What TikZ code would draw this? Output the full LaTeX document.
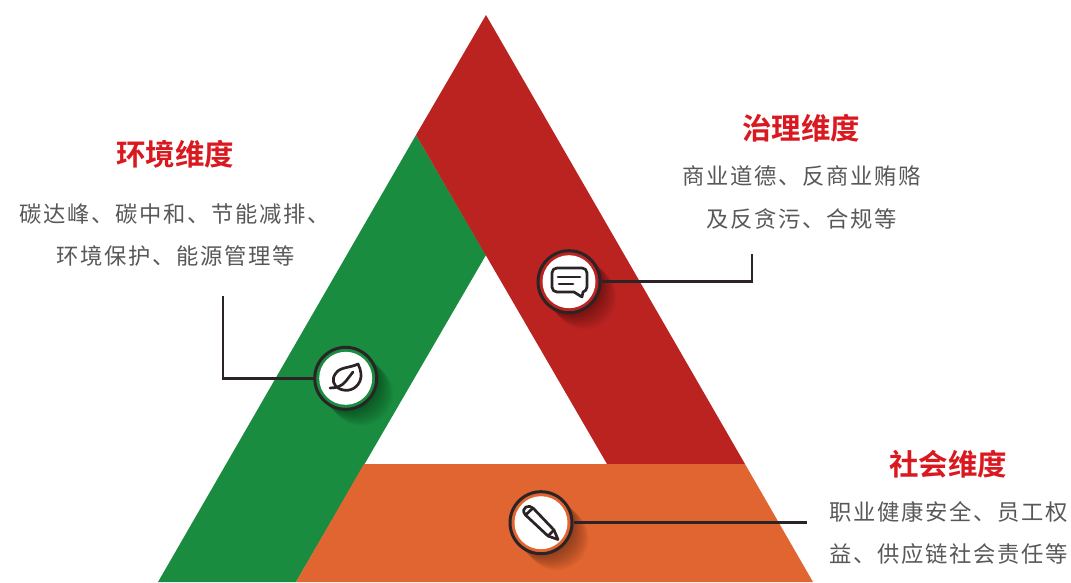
\documentclass[tikz,border=0pt]{standalone}
\usepackage{fontspec}
\setmainfont{Noto Sans CJK SC}
\newfontfamily\bodycjk[LetterSpace=7.5]{Noto Sans CJK SC}
\newfontfamily\headcjk{Noto Sans CJK SC Bold}
\definecolor{gr}{HTML}{1A8C40}
\definecolor{rd}{HTML}{BB2321}
\definecolor{og}{HTML}{E06530}
\definecolor{ttl}{HTML}{D9191F}
\definecolor{bodyc}{HTML}{595757}
\definecolor{ink}{HTML}{2B2326}
\tikzset{
 x=1pt,y=-1pt,
 band/.style={draw=none},
 badge/.style={circle,draw=ink,line width=3pt,minimum size=62pt,inner sep=0pt},
 lead/.style={draw=ink,line width=2.6pt},
 icon/.style={draw=ink,line width=2.7pt,line cap=round,line join=round},
 headtxt/.style={text=ttl,font=\headcjk\fontsize{29.5}{32}\selectfont,inner sep=0pt,anchor=center},
 bodytxt/.style={text=bodyc,font=\bodycjk\fontsize{22.3}{24}\selectfont,inner sep=0pt,anchor=center},
}
\newcommand{\longshade}[2]{%
 \foreach \k in {1,...,16}{\fill[black,opacity=0.022] (#1+\k,#2+\k) circle[radius=31.5];}}
\newcommand{\whitedisc}[2]{\fill[white] (#1,#2) circle[radius=26.5];}
\begin{document}
\begin{tikzpicture}
\useasboundingbox (0,0) rectangle (1071,582);
\fill[white] (0,0) rectangle (1071,582);
% bands
\fill[band,gr] (416,135) -- (486,255) -- (296,582) -- (158,582) -- cycle;
\fill[band,rd] (486,15) -- (745,464) -- (607,464) -- (416,135) -- cycle;
\fill[band,og] (364,464) -- (745,464) -- (813,582) -- (296,582) -- cycle;
% shadows
\longshade{345.7}{378.3}
\longshade{569}{281.7}
\longshade{541}{522.7}
% badges
\node[badge,fill=gr] (leaf) at (345.7,378.3) {};
\node[badge,fill=rd] (chat) at (569,281.7) {};
\node[badge,fill=og] (pen) at (541,522.7) {};
\whitedisc{345.7}{378.3}
\whitedisc{569}{281.7}
\whitedisc{541}{522.7}
% connectors
\coordinate (leafend) at (223,296);
\coordinate (chatend) at (752,254);
\coordinate (penend) at (807,522.7);
\draw[lead] (leafend) |- (leaf.west);
\draw[lead] (chat.east) -| (chatend);
\draw[lead] (pen.east) -- (penend);
% leaf icon
\draw[icon] (330,388) .. controls (337,388) and (342,386) .. (346,381) -- (353,372);
\draw[icon] (358,364) .. controls (350,368) and (340,367) .. (336,373) .. controls (331,379) and (333,386) .. (340,389) .. controls (347,392) and (356,390) .. (360,381) .. controls (362,376) and (361,370) .. (358,364) -- cycle;
% chat icon
\draw[icon] (557,268) -- (582,268) .. controls (585,268) and (587,270) .. (587,273) -- (587,287) .. controls (587,290) and (585,291) .. (583,292) -- (582,297) -- (574,292) -- (557,292) .. controls (554,292) and (552,290) .. (552,287) -- (552,273) .. controls (552,270) and (554,268) .. (557,268) -- cycle;
\draw[icon] (558,277) -- (580,277);
\draw[icon] (559,284) -- (573,284);
% pencil icon
\draw[icon] (525.5,515) -- (533,508) -- (554,530) -- (558,539.5) -- (548,536) -- cycle;
\draw[icon] (525.5,515) .. controls (522,511) and (524,508) .. (526,507) .. controls (528,506) and (531,506) .. (533,508);
\draw[icon] (548,536) -- (554,530);
% texts
\node[headtxt] (h1) at (175,154) {环境维度};
\node[bodytxt] (a1) at (174.5,214) {碳达峰、碳中和、节能减排、};
\node[bodytxt] (a2) at (176,256) {环境保护、能源管理等};
\node[headtxt] (h2) at (801,128) {治理维度};
\node[bodytxt] (b1) at (801.5,176) {商业道德、反商业贿赂};
\node[bodytxt] (b2) at (801.5,219) {及反贪污、合规等};
\node[headtxt] (h3) at (948,464) {社会维度};
\node[bodytxt] (c1) at (949,512) {职业健康安全、员工权};
\node[bodytxt] (c2) at (948.5,554) {益、供应链社会责任等};
\end{tikzpicture}
\end{document}
